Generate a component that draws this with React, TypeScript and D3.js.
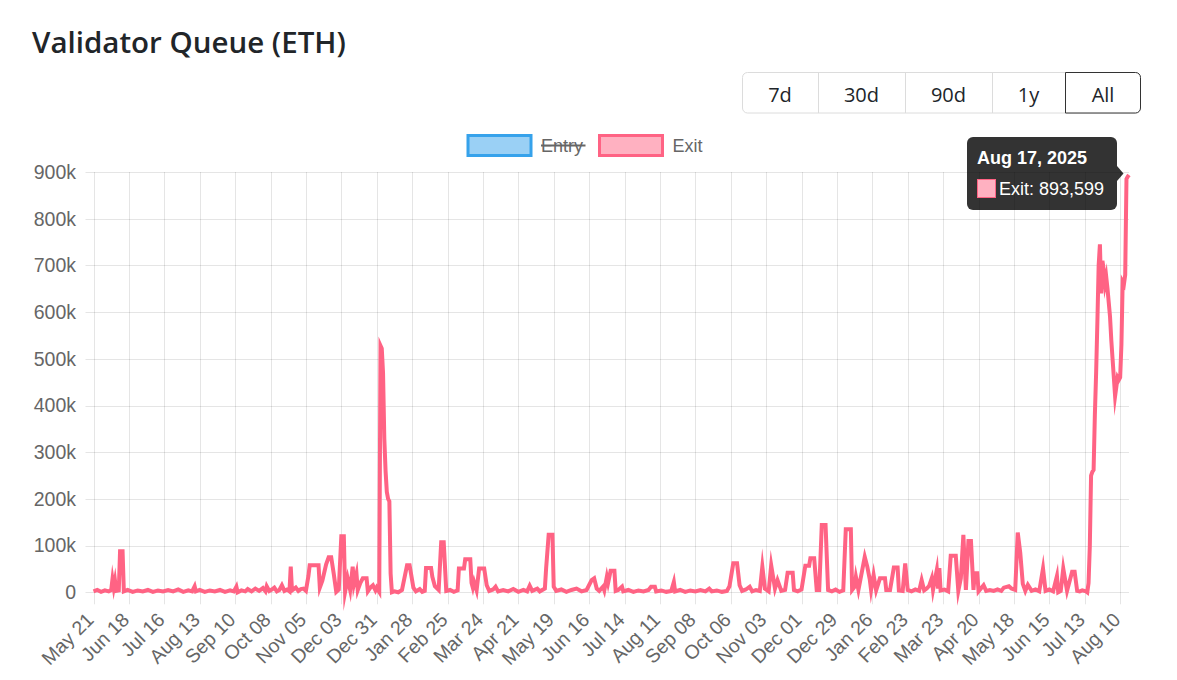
import React from "react";
import * as d3 from "d3";

// ---------- data ----------
const START_DATE = "2023-05-21";
const END_DATE = "2025-08-17";
const chartTitle = "Validator Queue (ETH)";
const rangeButtons = ["7d", "30d", "90d", "1y", "All"];
const activeButton = "All";
const legendLabels = ["Entry", "Exit"];
const hiddenSeries = ["Entry"];
const xTickLabels = [
  "May 21", "Jun 18", "Jul 16", "Aug 13", "Sep 10", "Oct 08", "Nov 05", "Dec 03", "Dec 31", "Jan 28",
  "Feb 25", "Mar 24", "Apr 21", "May 19", "Jun 16", "Jul 14", "Aug 11", "Sep 08", "Oct 06", "Nov 03",
  "Dec 01", "Dec 29", "Jan 26", "Feb 23", "Mar 23", "Apr 20", "May 18", "Jun 15", "Jul 13", "Aug 10",
];
const xTickStepDays = 28;
const yTickValues = [0, 100000, 200000, 300000, 400000, 500000, 600000, 700000, 800000, 900000];
const yTickLabels = ["0", "100k", "200k", "300k", "400k", "500k", "600k", "700k", "800k", "900k"];

// Exit queue: days since START_DATE and value (thousand ETH)
const exitDayOffsets = [
  0, 3, 6, 9, 12, 14, 15, 16, 17, 18, 20, 21, 23, 24, 27, 31, 35, 39, 43, 47, 51, 55, 59, 63, 67, 71, 75, 78, 80, 81,
  84, 88, 92, 96, 100, 104, 108, 111, 113, 114, 117, 120, 122, 125, 128, 131, 134, 136, 137, 139, 141, 143, 145, 147, 149, 151, 153, 155, 156, 157,
  160, 162, 164, 166, 168, 170, 171, 178, 179, 181, 184, 186, 188, 190, 192, 194, 196, 198, 199, 201, 203, 205, 206, 208, 209, 211, 213, 214, 216, 217,
  219, 221, 223, 224, 226, 227, 228, 229, 230, 231, 232, 233, 234, 235, 236, 238, 241, 244, 248, 250, 253, 255, 258, 260, 262, 263, 267, 268, 270, 273,
  275, 277, 279, 282, 285, 288, 289, 293, 294, 298, 299, 300, 301, 303, 305, 309, 311, 313, 316, 318, 320, 324, 328, 332, 336, 340, 343, 345, 347, 351,
  353, 357, 358, 360, 363, 364, 366, 370, 374, 378, 382, 386, 390, 394, 396, 398, 400, 403, 404, 406, 407, 409, 412, 413, 415, 418, 419, 423, 427, 431,
  435, 439, 441, 444, 445, 449, 453, 457, 459, 460, 464, 468, 472, 476, 480, 484, 487, 489, 493, 497, 501, 503, 506, 509, 511, 513, 516, 519, 521, 524,
  527, 529, 531, 534, 536, 539, 541, 544, 547, 549, 553, 554, 557, 560, 563, 566, 567, 570, 572, 574, 576, 579, 581, 584, 587, 590, 593, 595, 599, 600,
  602, 603, 605, 610, 612, 614, 615, 617, 619, 622, 626, 627, 630, 633, 636, 637, 640, 642, 644, 647, 650, 653, 655, 657, 659, 661, 663, 664, 667, 668,
  669, 670, 673, 676, 678, 682, 684, 686, 688, 690, 692, 694, 696, 697, 699, 700, 704, 706, 709, 712, 715, 718, 720, 724, 726, 729, 731, 733, 735, 737,
  739, 742, 745, 748, 751, 753, 756, 759, 762, 763, 765, 767, 770, 774, 776, 778, 780, 782, 785, 786, 787, 788, 789, 790, 791, 792, 793, 794, 795, 796,
  797, 798, 799, 800, 801, 802, 803, 804, 805, 806, 807, 808, 809, 810, 811, 812, 813, 814, 815, 816, 817, 818, 819,
];
const exitThousands = [
  2, 5, 1, 4, 2, 5, 28, 10, 25, 3, 4, 88, 88, 2, 5, 1, 4, 2, 5, 1, 4, 2, 5, 2, 6, 1, 4, 2, 13, 2,
  5, 1, 4, 2, 5, 1, 4, 2, 12, 0, 4, 2, 7, 2, 8, 3, 9, 2, 13, 3, 6, 10, 2, 5, 15, 3, 6, 2, 55, 4,
  10, 3, 7, 8, 3, 35, 58, 58, 10, 25, 60, 75, 75, 40, 1, 6, 120, 120, 1, 30, 5, 55, 17, 40, 5, 20, 30, 30, 30, 2,
  10, 15, 4, 10, 1, 528, 522, 470, 330, 260, 215, 200, 195, 40, 0, 2, 0, 5, 58, 58, 10, 2, 7, 1, 3, 52, 52, 33, 13, 5,
  107, 107, 3, 5, 1, 4, 51, 51, 71, 71, 20, 10, 22, 4, 51, 51, 15, 3, 6, 12, 2, 5, 2, 7, 1, 5, 2, 14, 3, 8,
  2, 8, 52, 123, 123, 12, 3, 6, 1, 5, 8, 2, 5, 26, 30, 8, 3, 12, 4, 33, 20, 46, 46, 3, 5, 12, 2, 5, 1, 4,
  2, 5, 12, 12, 2, 4, 1, 3, 22, 2, 5, 1, 4, 2, 5, 2, 8, 2, 4, 1, 3, 13, 62, 62, 15, 3, 6, 12, 2, 5,
  3, 55, 8, 2, 58, 8, 26, 3, 5, 42, 42, 5, 2, 6, 57, 57, 73, 73, 5, 5, 144, 144, 5, 2, 6, 1, 4, 135, 135, 5,
  12, 33, 5, 76, 55, 27, 5, 37, 4, 30, 30, 5, 5, 53, 53, 4, 3, 62, 5, 2, 6, 3, 26, 4, 8, 14, 30, 5, 48, 8,
  52, 4, 6, 2, 78, 78, 3, 30, 123, 5, 110, 110, 5, 41, 41, 2, 15, 3, 5, 3, 6, 3, 10, 13, 8, 5, 128, 84, 18, 3,
  16, 3, 6, 2, 51, 3, 6, 2, 35, 0, 3, 51, 3, 44, 44, 3, 2, 4, 2, 0, 20, 98, 250, 258, 262, 380, 470, 580, 700, 745,
  640, 710, 690, 660, 675, 650, 620, 590, 540, 500, 460, 420, 440, 460, 455, 460, 530, 665, 660, 680, 885, 890, 893.599,
];

// ---------- layout ----------
const W = 1177;
const H = 680;
const plotLeft = 93.5;
const plotRight = 1129;
const plotTop = 172;
const plotBottom = 592.3;
const exitColor = "rgb(255, 99, 132)";
const exitFill = "rgba(255, 99, 132, 0.5)";
const entryColor = "rgb(54, 162, 235)";
const entryFill = "rgba(54, 162, 235, 0.5)";
const gridColor = "rgba(0,0,0,0.1)";
const tickColor = "#666";
const chartFont = "'Liberation Sans', Arial, Helvetica, sans-serif";
const uiFont = "'Open Sans', 'Noto Sans', sans-serif";

export default function App() {
  const parse = d3.utcParse("%Y-%m-%d");
  const start = parse(START_DATE) as Date;
  const end = parse(END_DATE) as Date;

  const x = d3.scaleUtc().domain([start, end]).range([plotLeft, plotRight]);
  const y = d3.scaleLinear().domain([0, 900000]).range([plotBottom, plotTop]);

  const points: [Date, number][] = exitDayOffsets.map((o, i) => [
    d3.utcDay.offset(start, o),
    Math.round(exitThousands[i] * 1000),
  ]);
  const linePath = d3
    .line<[Date, number]>()
    .x((d) => x(d[0]))
    .y((d) => y(d[1]))(points) as string;

  const xTicks = xTickLabels.map((label, i) => ({
    label,
    date: d3.utcDay.offset(start, i * xTickStepDays),
  }));

  const last = points[points.length - 1];
  const tipTitle = d3.utcFormat("%b %-d, %Y")(last[0]);
  const tipBody = `Exit: ${d3.format(",")(last[1])}`;
  const px = x(last[0]);
  const py = y(last[1]);

  // buttons
  const btnEdges = [742, 818, 905, 992, 1065, 1141];
  const btnTop = 72;
  const btnBottom = 113.5;

  // legend
  const legendItems = [
    { label: legendLabels[0], boxX: 468, textX: 541, stroke: entryColor, fill: entryFill },
    { label: legendLabels[1], boxX: 599.5, textX: 672.5, stroke: exitColor, fill: exitFill },
  ];

  return (
    <div style={{ position: "absolute", left: 0, top: 0, width: W, height: H, background: "#fff" }}>
      <svg width={W} height={H} viewBox={`0 0 ${W} ${H}`} style={{ display: "block" }}>
        <rect width={W} height={H} fill="#fff" />
        {/* title */}
        <text x={32} y={53} fontFamily={uiFont} fontWeight={600} fontSize={29.5} fill="#212529">
          {chartTitle}
        </text>

        {/* range buttons */}
        <g fontFamily={uiFont} fontSize={20} fill="#212529">
          <rect
            x={btnEdges[0] + 0.5}
            y={btnTop + 0.5}
            width={btnEdges[5] - btnEdges[0] - 1}
            height={btnBottom - btnTop - 1}
            rx={5}
            fill="#fff"
            stroke="#dcdcdc"
          />
          {btnEdges.slice(1, 4).map((bx, i) => (
            <line key={i} x1={bx + 0.5} x2={bx + 0.5} y1={btnTop + 0.5} y2={btnBottom - 0.5} stroke="#dcdcdc" />
          ))}
          {rangeButtons.map((b, i) => {
            const cx = (btnEdges[i] + btnEdges[i + 1]) / 2;
            const active = b === activeButton;
            return (
              <g key={b}>
                {active && (
                  <path
                    d={`M${btnEdges[i] + 0.5},${btnTop + 0.5} H${btnEdges[i + 1] - 5.5} A5,5 0 0 1 ${btnEdges[i + 1] - 0.5},${btnTop + 5.5} V${btnBottom - 5.5} A5,5 0 0 1 ${btnEdges[i + 1] - 5.5},${btnBottom - 0.5} H${btnEdges[i] + 0.5} Z`}
                    fill="#fff"
                    stroke="#333"
                  />
                )}
                <text x={cx} y={102} textAnchor="middle" fill="#212529">
                  {b}
                </text>
              </g>
            );
          })}
        </g>

        {/* legend */}
        <g fontFamily={chartFont} fontSize={18} fill={tickColor}>
          {legendItems.map((it) => {
            const hidden = hiddenSeries.includes(it.label);
            return (
              <g key={it.label}>
                <rect x={it.boxX} y={135.5} width={63} height={20} fill={it.fill} stroke={it.stroke} strokeWidth={3} />
                <text x={it.textX} y={151.5} fill={tickColor}>
                  {it.label}
                </text>
                {hidden && (
                  <line x1={it.textX} x2={it.textX + 44.5} y1={145.5} y2={145.5} stroke={tickColor} strokeWidth={2} />
                )}
              </g>
            );
          })}
        </g>

        {/* grid */}
        <g>
          {yTickValues.map((v) => (
            <line key={v} x1={plotLeft - 8} x2={plotRight} y1={Math.round(y(v)) + 0.5} y2={Math.round(y(v)) + 0.5} stroke={gridColor} />
          ))}
          {xTicks.map((t) => (
            <line key={t.label + t.date.toISOString()} x1={Math.round(x(t.date)) + 0.5} x2={Math.round(x(t.date)) + 0.5} y1={plotTop} y2={plotBottom + 12} stroke={gridColor} />
          ))}
        </g>

        {/* y tick labels */}
        <g fontFamily={chartFont} fontSize={19.5} fill={tickColor} textAnchor="end">
          {yTickValues.map((v, i) => (
            <text key={v} x={76} y={y(v)} dy="0.35em">
              {yTickLabels[i]}
            </text>
          ))}
        </g>

        {/* x tick labels */}
        <g fontFamily={chartFont} fontSize={19.5} fill={tickColor} textAnchor="end">
          {xTicks.map((t) => (
            <text key={t.label + t.date.toISOString()} transform={`translate(${x(t.date) + 1.5},${621}) rotate(-45)`}>
              {t.label}
            </text>
          ))}
        </g>

        {/* exit line */}
        <path d={linePath} fill="none" stroke={exitColor} strokeWidth={4} strokeLinejoin="miter" strokeMiterlimit={10} />

        {/* tooltip */}
        <g>
          <rect x={967} y={137} width={150} height={73} rx={6} fill="rgba(0,0,0,0.8)" />
          <path d={`M1117,${py - 9} L${px - 5.5},${py - 1.5} L1117,${py + 6} Z`} fill="rgba(0,0,0,0.8)" />
          <text x={977} y={163.5} fontFamily={chartFont} fontWeight="bold" fontSize={18} fill="#fff">
            {tipTitle}
          </text>
          <rect x={977.5} y={179.5} width={18} height={18} fill="#fff" />
          <rect x={977.5} y={179.5} width={18} height={18} fill={exitFill} stroke={exitColor} strokeWidth={1} />
          <text x={999} y={194.5} fontFamily={chartFont} fontSize={18} fill="#fff">
            {tipBody}
          </text>
        </g>
      </svg>
    </div>
  );
}
